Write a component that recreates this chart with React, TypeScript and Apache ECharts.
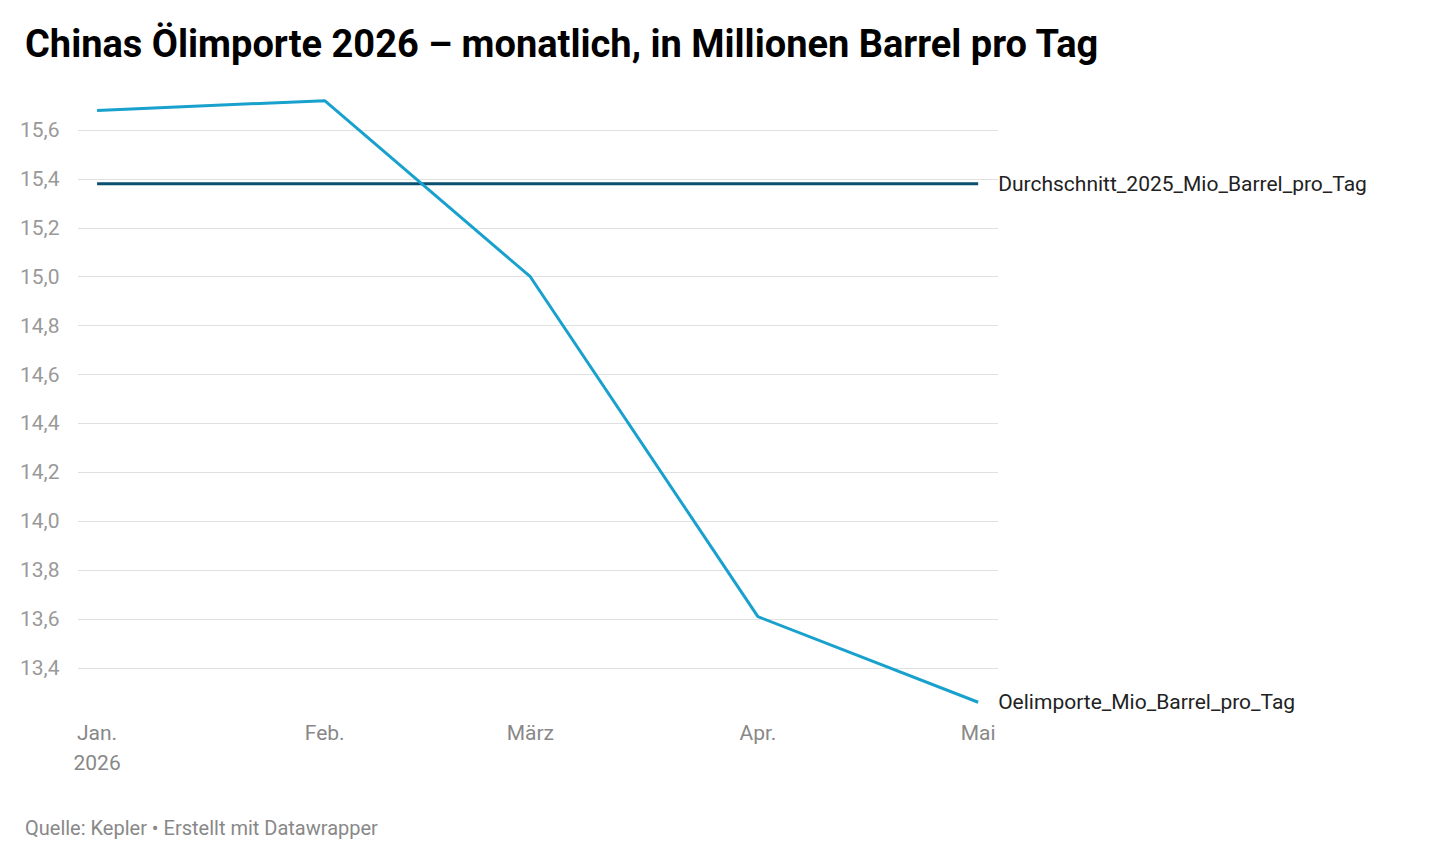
import { useEffect, useRef } from 'react'
import * as echarts from 'echarts'

// days since 1 Jan 2026 for the first of each month
const monthDays = [0, 31, 59, 90, 120]
const monthLabels = ['Jan.\n2026', 'Feb.', 'März', 'Apr.', 'Mai']
const imports = [15.68, 15.72, 15.0, 13.61, 13.26]
const average2025 = [15.38, 15.38, 15.38, 15.38, 15.38]

export default function App() {
  const chartRef = useRef<HTMLDivElement>(null)

  useEffect(() => {
    document.body.style.margin = '0'
    if (!chartRef.current) return
    const chart = echarts.init(chartRef.current, null, { renderer: 'svg' })

    chart.setOption({
      animation: false,
      textStyle: { fontFamily: 'Roboto' },
      title: [
        {
          text: 'Chinas Ölimporte 2026 – monatlich, in Millionen Barrel pro Tag',
          left: 20,
          top: 20,
          textStyle: { fontSize: 38, fontWeight: 'bold', color: '#000', fontFamily: 'Roboto' },
        },
        {
          text: 'Quelle: Kepler • Erstellt mit Datawrapper',
          left: 20,
          top: 813,
          textStyle: { fontSize: 20, fontWeight: 'normal', color: '#888', fontFamily: 'Roboto' },
        },
      ],
      grid: { left: 78, right: 442, top: 130, bottom: 190 },
      xAxis: {
        type: 'value',
        min: -2.6,
        max: 122.7,
        axisLine: { show: false },
        axisTick: { show: false },
        splitLine: { show: false },
        axisLabel: {
          customValues: monthDays,
          margin: 50,
          color: '#888',
          fontSize: 21,
          lineHeight: 30,
          formatter: (v: number) => monthLabels[monthDays.indexOf(v)] ?? '',
        },
      },
      yAxis: {
        type: 'value',
        min: 13.4,
        max: 15.6,
        interval: 0.2,
        axisLine: { show: false },
        axisTick: { show: false },
        splitLine: { lineStyle: { color: '#e0e0e0', width: 1 } },
        axisLabel: {
          align: 'left',
          margin: 58,
          color: '#999',
          fontSize: 21,
          formatter: (v: number) => v.toFixed(1).replace('.', ','),
        },
      },
      series: [
        {
          name: 'Durchschnitt_2025_Mio_Barrel_pro_Tag',
          type: 'line',
          data: monthDays.map((d, i) => [d, average2025[i]]),
          symbol: 'none',
          clip: false,
          lineStyle: { color: '#0b4f71', width: 3 },
          endLabel: { show: true, formatter: '{a}', color: '#222', fontSize: 21, distance: 20 },
        },
        {
          name: 'Oelimporte_Mio_Barrel_pro_Tag',
          type: 'line',
          data: monthDays.map((d, i) => [d, imports[i]]),
          symbol: 'none',
          clip: false,
          lineStyle: { color: '#18a1cd', width: 3 },
          endLabel: { show: true, formatter: '{a}', color: '#222', fontSize: 21, distance: 20 },
        },
      ],
    })

    return () => chart.dispose()
  }, [])

  return <div ref={chartRef} style={{ width: 1440, height: 858 }} />
}
